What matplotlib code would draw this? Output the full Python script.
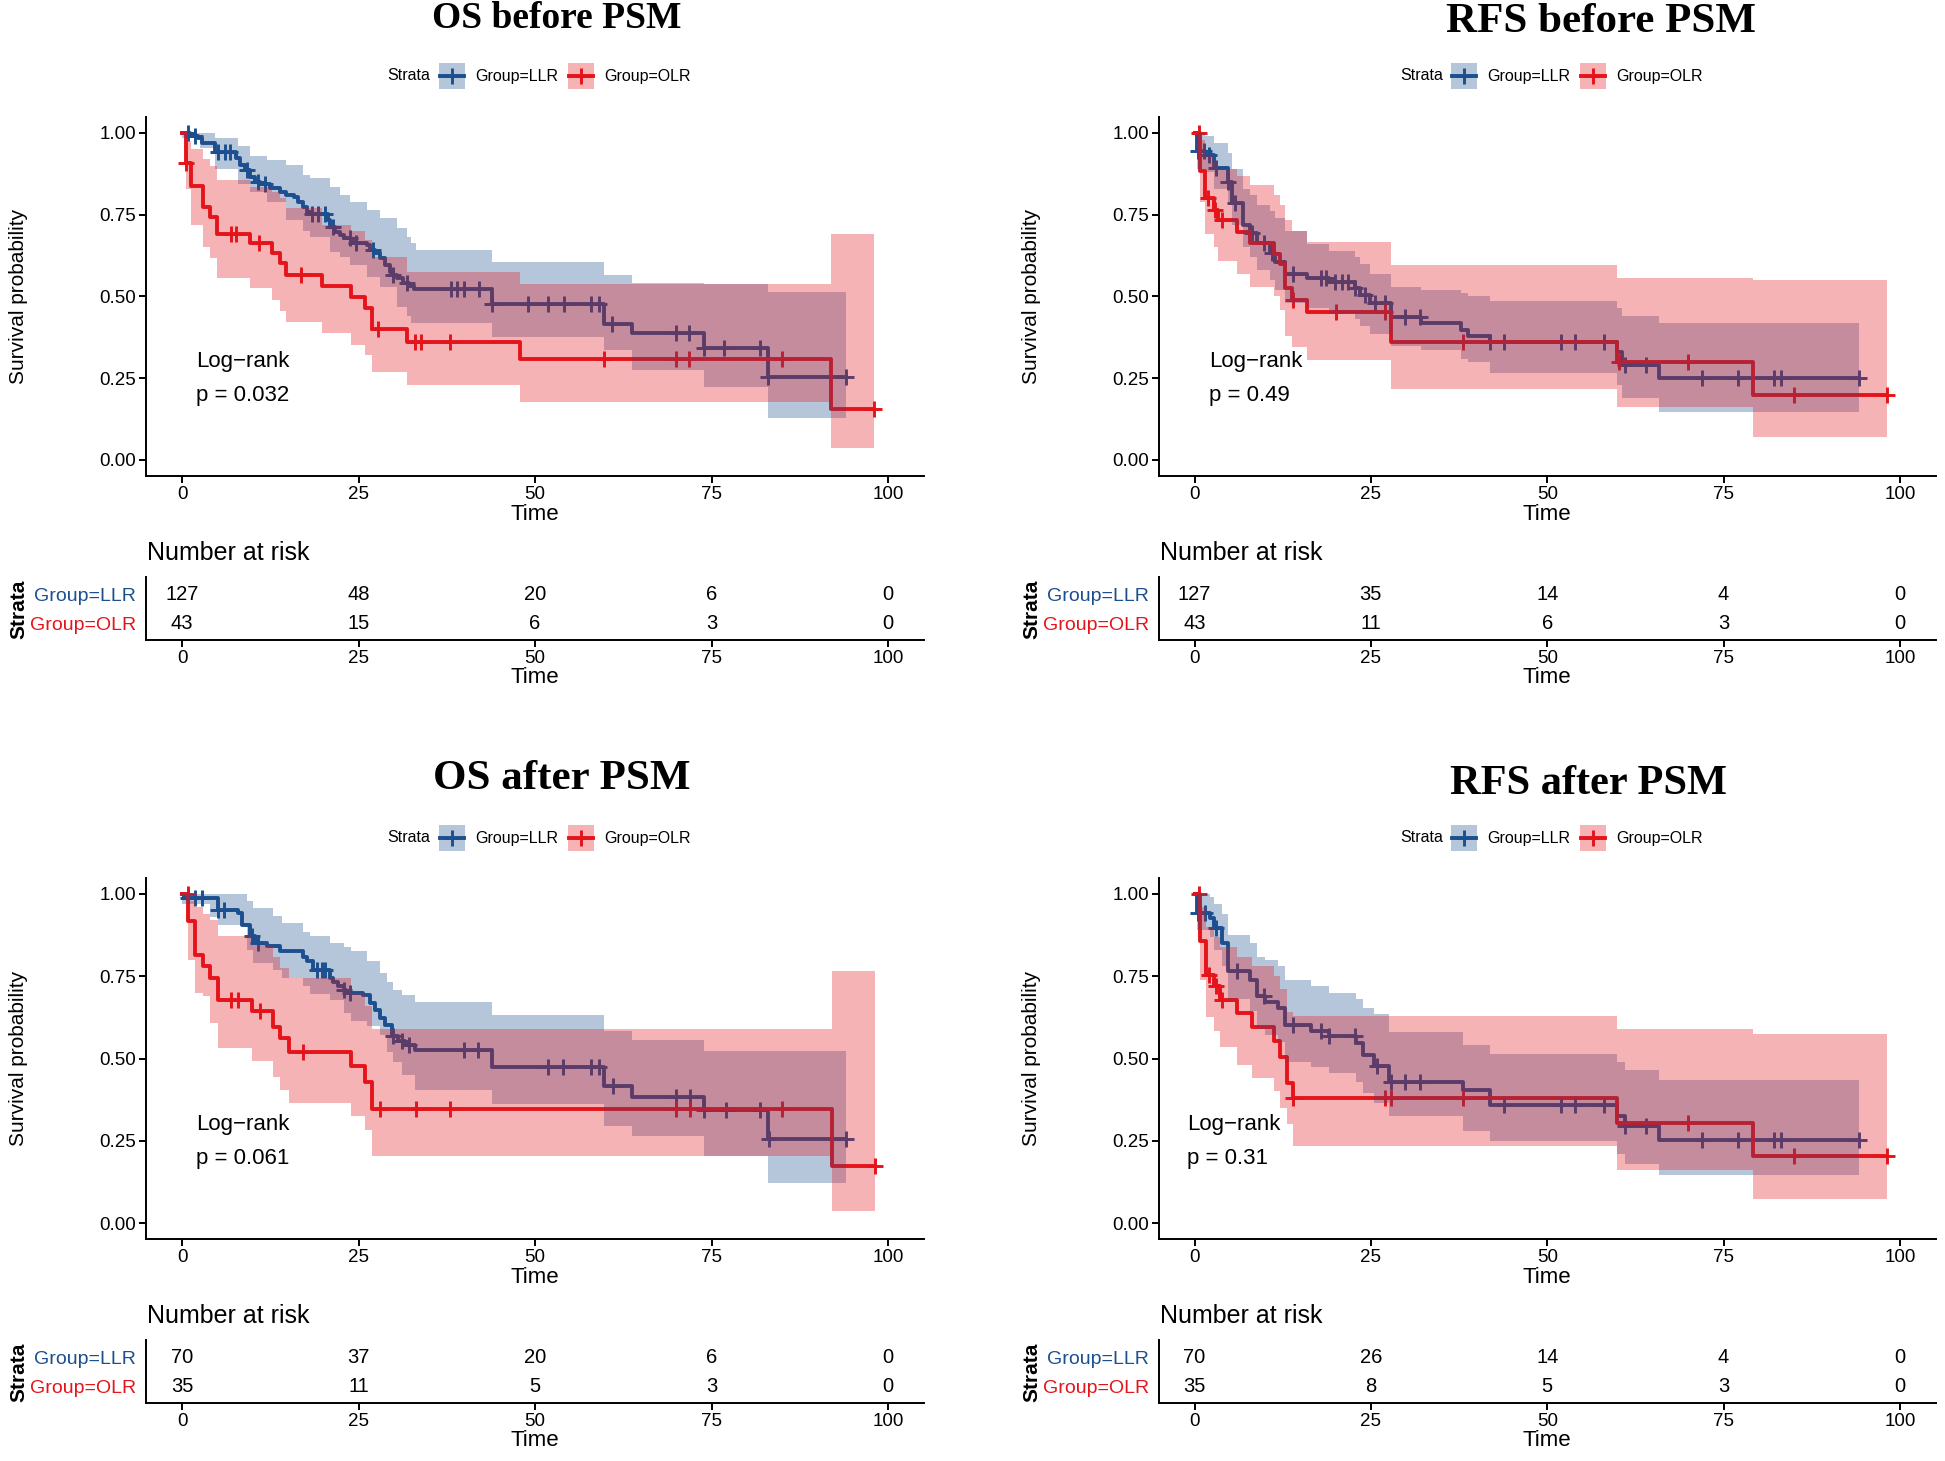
import numpy as np
import matplotlib.pyplot as plt
from matplotlib.patches import Rectangle
from matplotlib.lines import Line2D

plt.rcParams['font.family'] = ['Liberation Sans', 'DejaVu Sans']

W, H = 1945, 1461
BLUE = '#1B4F8F'
RED = '#E5141B'
ALPHA = 0.32

risk_times = [0, 25, 50, 75, 100]

# ---------------- OS before PSM ----------------
os_pre_llr_t = [0, 1.2, 2.3, 2.8, 4.7, 7.7, 8.2, 8.9, 9.6, 10.3, 11.0, 12.5, 13.9, 14.8, 15.8,
                16.5, 17.2, 17.7, 18.3, 20.7, 21.0, 21.7, 22.4, 22.9, 24.0, 24.7, 26.2, 26.6,
                27.3, 28.0, 28.8, 29.5, 29.9, 30.4, 31.3, 32.1, 32.8, 43.9, 59.8, 63.8, 74.0, 83.0]
os_pre_llr_s = [1.0, 0.992, 0.984, 0.968, 0.943, 0.923, 0.902, 0.887, 0.866, 0.851, 0.843, 0.831,
                0.82, 0.81, 0.805, 0.79, 0.775, 0.757, 0.751, 0.734, 0.713, 0.698, 0.688, 0.678,
                0.668, 0.663, 0.657, 0.642, 0.632, 0.617, 0.596, 0.576, 0.566, 0.556, 0.54, 0.533,
                0.522, 0.476, 0.417, 0.387, 0.341, 0.254]
os_pre_llr_end = 94.0
os_pre_llr_band_t = [0, 2.5, 4.7, 8.0, 9.6, 12.0, 14.8, 17.2, 18.1, 21.0, 22.4, 23.8, 26.2, 28.0,
                     30.4, 31.8, 32.5, 33.2, 43.9, 59.8, 63.8, 74.0, 83.0]
os_pre_llr_lo = [0.985, 0.955, 0.89, 0.845, 0.82, 0.79, 0.734, 0.70, 0.683, 0.637, 0.62, 0.596,
                 0.56, 0.53, 0.469, 0.44, 0.418, 0.418, 0.376, 0.336, 0.275, 0.224, 0.127]
os_pre_llr_hi = [1.0, 1.0, 0.985, 0.96, 0.93, 0.917, 0.902, 0.872, 0.861, 0.836, 0.81, 0.79,
                 0.765, 0.739, 0.708, 0.683, 0.663, 0.643, 0.605, 0.565, 0.541, 0.539, 0.515]
os_pre_llr_cens = [0.9, 1.8, 5.1, 6.1, 6.8, 9.2, 10.8, 11.8, 18.4, 19.3, 20.3, 21.4, 23.8, 24.7,
                   27.1, 29.9, 31.8, 38.1, 38.9, 39.9, 42.1, 43.9, 49.0, 51.9, 54.1, 58.0, 59.1,
                   60.9, 70.0, 71.8, 74.0, 76.8, 81.9, 83.0, 94.0]

os_pre_olr_t = [0, 0.5, 1.3, 3.0, 4.0, 4.9, 9.6, 12.7, 13.9, 14.8, 19.8, 24.0, 25.9, 26.9, 31.8, 47.9, 91.9]
os_pre_olr_s = [1.0, 0.907, 0.837, 0.775, 0.744, 0.69, 0.663, 0.632, 0.601, 0.566, 0.532, 0.499,
                0.466, 0.40, 0.362, 0.31, 0.156]
os_pre_olr_lo = [1.0, 0.83, 0.72, 0.65, 0.617, 0.556, 0.525, 0.49, 0.455, 0.423, 0.387, 0.352,
                 0.321, 0.27, 0.229, 0.178, 0.036]
os_pre_olr_hi = [1.0, 0.975, 0.95, 0.92, 0.90, 0.856, 0.836, 0.82, 0.80, 0.77, 0.72, 0.70,
                 0.673, 0.62, 0.576, 0.539, 0.69]
os_pre_olr_end = 98.0
os_pre_olr_cens = [0.6, 7.0, 7.7, 10.9, 16.9, 27.8, 33.0, 33.8, 37.9, 59.8, 70.0, 71.8, 85.0, 98.0]

os_pre_risk_llr = [127, 48, 20, 6, 0]
os_pre_risk_olr = [43, 15, 6, 3, 0]

# ---------------- RFS before PSM ----------------
rfs_pre_llr_t = [0, 0.3, 1.5, 2.8, 4.8, 5.3, 6.9, 7.9, 8.8, 10.7, 11.4, 12.8, 15.9, 19.0, 22.7,
                 23.4, 24.9, 27.9, 32.1, 37.8, 38.8, 41.9, 59.9, 60.6, 65.9]
rfs_pre_llr_s = [1.0, 0.945, 0.933, 0.892, 0.851, 0.785, 0.719, 0.693, 0.663, 0.632, 0.607, 0.568,
                 0.558, 0.545, 0.525, 0.505, 0.479, 0.437, 0.42, 0.398, 0.38, 0.36, 0.33, 0.29, 0.252]
rfs_pre_llr_hi = [1.0, 1.0, 0.99, 0.97, 0.94, 0.89, 0.83, 0.81, 0.78, 0.76, 0.74, 0.70, 0.66, 0.64,
                  0.62, 0.60, 0.57, 0.53, 0.52, 0.51, 0.50, 0.485, 0.465, 0.44, 0.418]
rfs_pre_llr_lo = [1.0, 0.89, 0.88, 0.83, 0.79, 0.72, 0.65, 0.62, 0.58, 0.55, 0.52, 0.48, 0.465,
                  0.45, 0.43, 0.41, 0.385, 0.35, 0.335, 0.31, 0.30, 0.265, 0.23, 0.19, 0.148]
rfs_pre_llr_end = 94.2
rfs_pre_llr_cens = [0.5, 1.3, 2.0, 3.0, 4.8, 5.7, 8.1, 9.9, 11.0, 13.9, 18.0, 18.7, 19.9, 20.9,
                    21.8, 22.7, 24.2, 25.6, 27.0, 29.9, 32.0, 41.9, 43.9, 51.9, 53.9, 58.0, 61.0,
                    64.0, 72.0, 77.0, 82.1, 83.1, 94.2]

rfs_pre_olr_t = [0, 0.8, 1.5, 2.7, 3.4, 6.0, 7.9, 11.2, 12.1, 12.8, 13.8, 15.9, 27.9, 59.9, 79.1]
rfs_pre_olr_s = [1.0, 0.883, 0.80, 0.765, 0.735, 0.698, 0.665, 0.63, 0.60, 0.527, 0.49, 0.452,
                 0.362, 0.30, 0.20]
rfs_pre_olr_lo = [1.0, 0.79, 0.69, 0.65, 0.61, 0.57, 0.53, 0.50, 0.46, 0.38, 0.345, 0.305, 0.216,
                  0.161, 0.071]
rfs_pre_olr_hi = [1.0, 0.98, 0.93, 0.91, 0.89, 0.87, 0.84, 0.81, 0.78, 0.735, 0.70, 0.668, 0.596,
                  0.556, 0.55]
rfs_pre_olr_end = 98.1
rfs_pre_olr_cens = [0.7, 1.9, 2.9, 3.9, 13.9, 20.0, 27.0, 38.0, 60.2, 70.0, 85.0, 98.1]

rfs_pre_risk_llr = [127, 35, 14, 4, 0]
rfs_pre_risk_olr = [43, 11, 6, 3, 0]

# ---------------- OS after PSM ----------------
os_post_llr_t = [0, 0.3, 5.1, 8.0, 8.5, 9.6, 10.3, 10.8, 12.0, 13.9, 17.2, 17.7, 18.6, 21.0, 21.4,
                 22.1, 22.9, 23.3, 25.7, 26.6, 27.3, 28.0, 28.8, 29.7, 30.6, 31.6, 33.0, 43.9,
                 59.8, 63.8, 74.0, 83.0]
os_post_llr_s = [1.0, 0.988, 0.952, 0.942, 0.907, 0.871, 0.856, 0.851, 0.841, 0.826, 0.81, 0.795,
                 0.77, 0.744, 0.734, 0.719, 0.709, 0.699, 0.694, 0.668, 0.648, 0.623, 0.602,
                 0.567, 0.552, 0.542, 0.526, 0.475, 0.417, 0.383, 0.343, 0.256]
os_post_llr_end = 94.1
os_post_llr_band_t = [0, 4.0, 5.1, 9.2, 10.1, 12.9, 14.1, 17.2, 18.1, 21.0, 22.9, 24.0, 26.2, 28.0,
                      29.0, 29.9, 31.1, 33.0, 43.9, 59.8, 63.8, 74.0, 83.0]
os_post_llr_hi = [1.0, 1.0, 1.0, 0.978, 0.957, 0.932, 0.911, 0.886, 0.872, 0.851, 0.84, 0.826,
                  0.795, 0.76, 0.734, 0.709, 0.694, 0.673, 0.631, 0.585, 0.556, 0.524, 0.524]
os_post_llr_lo = [0.97, 0.93, 0.907, 0.83, 0.79, 0.77, 0.744, 0.72, 0.695, 0.678, 0.638, 0.615,
                  0.60, 0.572, 0.521, 0.49, 0.45, 0.404, 0.361, 0.295, 0.264, 0.203, 0.122]
os_post_llr_cens = [0.9, 1.8, 2.8, 5.1, 5.9, 9.9, 10.8, 19.1, 19.8, 20.3, 22.9, 23.8, 29.9, 31.1,
                    32.1, 39.9, 41.9, 51.9, 53.9, 58.0, 59.1, 61.1, 70.0, 72.0, 74.0, 77.0, 81.9,
                    83.1, 94.1]

os_post_olr_t = [0, 0.9, 1.8, 3.0, 4.0, 5.1, 9.9, 12.9, 13.9, 15.1, 24.0, 25.9, 26.9, 92.0]
os_post_olr_s = [1.0, 0.917, 0.815, 0.78, 0.744, 0.678, 0.643, 0.597, 0.562, 0.521, 0.476, 0.43,
                 0.347, 0.173]
os_post_olr_lo = [1.0, 0.80, 0.70, 0.689, 0.607, 0.531, 0.491, 0.445, 0.405, 0.364, 0.324, 0.283,
                  0.203, 0.036]
os_post_olr_hi = [1.0, 0.98, 0.96, 0.94, 0.92, 0.871, 0.845, 0.81, 0.775, 0.744, 0.70, 0.66,
                  0.59, 0.765]
os_post_olr_end = 98.2
os_post_olr_cens = [0.8, 7.0, 8.0, 11.0, 17.1, 28.0, 33.1, 37.9, 70.0, 72.0, 85.0, 98.2]

os_post_risk_llr = [70, 37, 20, 6, 0]
os_post_risk_olr = [35, 11, 5, 3, 0]

# ---------------- RFS after PSM ----------------
rfs_post_llr_t = [0, 0.3, 2.2, 2.8, 3.85, 4.8, 7.9, 8.8, 10.0, 11.9, 12.8, 16.5, 19.0, 22.9, 23.9,
                  25.4, 27.5, 38.0, 41.9, 59.9, 61.0, 65.9]
rfs_post_llr_s = [1.0, 0.942, 0.927, 0.897, 0.851, 0.767, 0.739, 0.689, 0.673, 0.653, 0.602, 0.584,
                  0.567, 0.546, 0.51, 0.478, 0.43, 0.404, 0.358, 0.326, 0.295, 0.252]
rfs_post_llr_hi = [1.0, 1.0, 0.99, 0.97, 0.94, 0.876, 0.85, 0.81, 0.80, 0.78, 0.74, 0.72, 0.70,
                   0.68, 0.655, 0.635, 0.58, 0.54, 0.515, 0.49, 0.465, 0.434]
rfs_post_llr_lo = [1.0, 0.89, 0.87, 0.83, 0.78, 0.68, 0.645, 0.59, 0.57, 0.55, 0.49, 0.475, 0.455,
                   0.43, 0.395, 0.365, 0.325, 0.28, 0.25, 0.21, 0.18, 0.145]
rfs_post_llr_end = 94.2
rfs_post_llr_cens = [0.5, 1.5, 3.0, 6.0, 9.9, 13.9, 18.0, 19.0, 22.7, 25.8, 27.9, 29.9, 31.9, 43.9,
                     51.9, 53.9, 58.0, 61.0, 64.0, 72.0, 77.0, 82.1, 83.1, 94.2]

rfs_post_olr_t = [0, 0.8, 1.7, 2.7, 3.6, 6.0, 8.1, 11.2, 12.1, 13.1, 14.0, 59.9, 79.1]
rfs_post_olr_s = [1.0, 0.858, 0.755, 0.719, 0.678, 0.638, 0.597, 0.554, 0.506, 0.425, 0.38, 0.305, 0.204]
rfs_post_olr_lo = [1.0, 0.74, 0.625, 0.585, 0.535, 0.48, 0.44, 0.40, 0.35, 0.30, 0.233, 0.16, 0.074]
rfs_post_olr_hi = [1.0, 0.96, 0.90, 0.87, 0.84, 0.81, 0.78, 0.75, 0.71, 0.64, 0.628, 0.59, 0.575]
rfs_post_olr_end = 98.1
rfs_post_olr_cens = [0.6, 2.0, 3.1, 3.9, 14.0, 27.0, 27.9, 38.0, 70.0, 85.0, 98.1]

rfs_post_risk_llr = [70, 26, 14, 4, 0]
rfs_post_risk_olr = [35, 8, 5, 3, 0]

LW = 2.8      # curve width
MS, MEW = 12, 2.1   # censor "+" marks


def fx(px):
    return px / W


def fy(py):
    return 1 - py / H


def surv_at(t, s, x):
    idx = np.searchsorted(np.asarray(t), np.asarray(x), side='right') - 1
    return np.asarray(s)[idx]


def draw_curve(ax, t, s, end, cens, color):
    ax.step(list(t) + [end], list(s) + [s[-1]], where='post', color=color, lw=LW, zorder=2)
    ax.plot(cens, surv_at(t, s, cens), ls='none', marker='+', ms=MS, mew=MEW, color=color, zorder=2)


def draw_band(ax, t, lo, hi, end, color):
    ax.fill_between(list(t) + [end], list(lo) + [lo[-1]], list(hi) + [hi[-1]], step='post',
                    color=color, alpha=ALPHA, lw=0, zorder=3)


def legend_row(fig, x_strata, x_key1, x_key2, y):
    fig.text(fx(x_strata), fy(y), 'Strata', fontsize=11.5, va='center', ha='left')
    for xk, col, lab in ((x_key1, BLUE, 'Group=LLR'), (x_key2, RED, 'Group=OLR')):
        fig.add_artist(Rectangle((fx(xk), fy(y + 13)), 26 / W, 26 / H, transform=fig.transFigure,
                                 facecolor=col, alpha=ALPHA, lw=0))
        fig.add_artist(Line2D([fx(xk + 1), fx(xk + 25)], [fy(y), fy(y)], transform=fig.transFigure,
                              color=col, lw=LW))
        fig.add_artist(Line2D([fx(xk + 13)], [fy(y)], transform=fig.transFigure, marker='+',
                              ms=MS, mew=MEW, color=col))
        fig.text(fx(xk + 36), fy(y), lab, fontsize=11.5, va='center', ha='left')


def style_axis(ax):
    for side in ('top', 'right'):
        ax.spines[side].set_visible(False)
    for side in ('left', 'bottom'):
        ax.spines[side].set_linewidth(1.4)
    ax.tick_params(width=1.4, length=5, labelsize=13.5, pad=2)


def panel(fig, x0, ppu, y1, y0, title, title_xy, title_size, leg, pval, llr, olr, risk_llr, risk_olr):
    left = x0 - 5.1 * ppu
    right = x0 + 105.1 * ppu
    top = y1 - 0.05 * (y0 - y1)
    bottom = y0 + 0.05 * (y0 - y1)
    ax = fig.add_axes([fx(left), fy(bottom), (right - left) / W, (bottom - top) / H])
    ax.set_xlim(-5.1, 105.1)
    ax.set_ylim(-0.05, 1.05)

    # lines first, then the ribbons on top (as in the original)
    draw_curve(ax, llr['t'], llr['s'], llr['end'], llr['cens'], BLUE)
    draw_curve(ax, olr['t'], olr['s'], olr['end'], olr['cens'], RED)
    draw_band(ax, llr['bt'], llr['lo'], llr['hi'], llr['end'], BLUE)
    draw_band(ax, olr['t'], olr['lo'], olr['hi'], olr['end'], RED)

    ax.set_xticks(risk_times)
    ax.set_yticks([0, 0.25, 0.5, 0.75, 1.0])
    ax.set_yticklabels(['0.00', '0.25', '0.50', '0.75', '1.00'])
    style_axis(ax)

    ax.text(pval[0], 0.30, 'Log\u2212rank', fontsize=16, va='center', ha='left')
    ax.text(pval[0], 0.196, 'p = ' + pval[1], fontsize=16, va='center', ha='left')

    xc = (left + right) / 2
    fig.text(fx(xc), fy(bottom + 38), 'Time', fontsize=16, ha='center', va='center')
    fig.text(fx(left - 127), fy((y1 + y0) / 2), 'Survival probability', fontsize=15,
             rotation=90, ha='center', va='center')
    fig.text(fx(title_xy[0]), fy(title_xy[1]), title, fontsize=title_size, fontweight='bold',
             family=['Liberation Serif', 'DejaVu Serif'], ha='center', va='center')
    legend_row(fig, *leg)

    # risk table
    t_top = bottom + 101
    t_bot = bottom + 164
    tax = fig.add_axes([fx(left), fy(t_bot), (right - left) / W, (t_bot - t_top) / H])
    tax.set_xlim(-5.1, 105.1)
    tax.set_ylim(0.413, 2.587)
    for xt, a, b in zip(risk_times, risk_llr, risk_olr):
        tax.text(xt, 2, str(a), fontsize=14.5, ha='center', va='center')
        tax.text(xt, 1, str(b), fontsize=14.5, ha='center', va='center')
    tax.set_xticks(risk_times)
    tax.set_yticks([2, 1])
    tax.set_yticklabels(['Group=LLR', 'Group=OLR'])
    style_axis(tax)
    tax.tick_params(axis='y', length=0, pad=7, labelsize=14)
    tax.get_yticklabels()[0].set_color(BLUE)
    tax.get_yticklabels()[1].set_color(RED)
    fig.text(fx(left + 1), fy(bottom + 77), 'Number at risk', fontsize=18, ha='left', va='center')
    fig.text(fx(xc), fy(t_bot + 37), 'Time', fontsize=16, ha='center', va='center')
    fig.text(fx(left - 127), fy((t_top + t_bot) / 2), 'Strata', fontsize=15, fontweight='bold',
             rotation=90, ha='center', va='center')


fig = plt.figure(figsize=(W / 100, H / 100), dpi=100)

panel(fig, 182, 7.06, 133, 460, 'OS before PSM', (557, 19), 27, (387, 439, 568, 76), (2.0, '0.032'),
      dict(t=os_pre_llr_t, s=os_pre_llr_s, end=os_pre_llr_end, cens=os_pre_llr_cens,
           bt=os_pre_llr_band_t, lo=os_pre_llr_lo, hi=os_pre_llr_hi),
      dict(t=os_pre_olr_t, s=os_pre_olr_s, end=os_pre_olr_end, cens=os_pre_olr_cens,
           lo=os_pre_olr_lo, hi=os_pre_olr_hi),
      os_pre_risk_llr, os_pre_risk_olr)

panel(fig, 1194.5, 7.055, 133, 460, 'RFS before PSM', (1601, 22), 31, (1400, 1451, 1580, 76), (2.05, '0.49'),
      dict(t=rfs_pre_llr_t, s=rfs_pre_llr_s, end=rfs_pre_llr_end, cens=rfs_pre_llr_cens,
           bt=rfs_pre_llr_t, lo=rfs_pre_llr_lo, hi=rfs_pre_llr_hi),
      dict(t=rfs_pre_olr_t, s=rfs_pre_olr_s, end=rfs_pre_olr_end, cens=rfs_pre_olr_cens,
           lo=rfs_pre_olr_lo, hi=rfs_pre_olr_hi),
      rfs_pre_risk_llr, rfs_pre_risk_olr)

panel(fig, 182, 7.06, 894, 1223, 'OS after PSM', (562, 779), 31, (387, 439, 568, 838), (2.0, '0.061'),
      dict(t=os_post_llr_t, s=os_post_llr_s, end=os_post_llr_end, cens=os_post_llr_cens,
           bt=os_post_llr_band_t, lo=os_post_llr_lo, hi=os_post_llr_hi),
      dict(t=os_post_olr_t, s=os_post_olr_s, end=os_post_olr_end, cens=os_post_olr_cens,
           lo=os_post_olr_lo, hi=os_post_olr_hi),
      os_post_risk_llr, os_post_risk_olr)

panel(fig, 1194.5, 7.055, 894, 1223, 'RFS after PSM', (1588, 784), 30.5, (1400, 1451, 1580, 838), (-1.06, '0.31'),
      dict(t=rfs_post_llr_t, s=rfs_post_llr_s, end=rfs_post_llr_end, cens=rfs_post_llr_cens,
           bt=rfs_post_llr_t, lo=rfs_post_llr_lo, hi=rfs_post_llr_hi),
      dict(t=rfs_post_olr_t, s=rfs_post_olr_s, end=rfs_post_olr_end, cens=rfs_post_olr_cens,
           lo=rfs_post_olr_lo, hi=rfs_post_olr_hi),
      rfs_post_risk_llr, rfs_post_risk_olr)

fig.savefig('out.png', dpi=100)
